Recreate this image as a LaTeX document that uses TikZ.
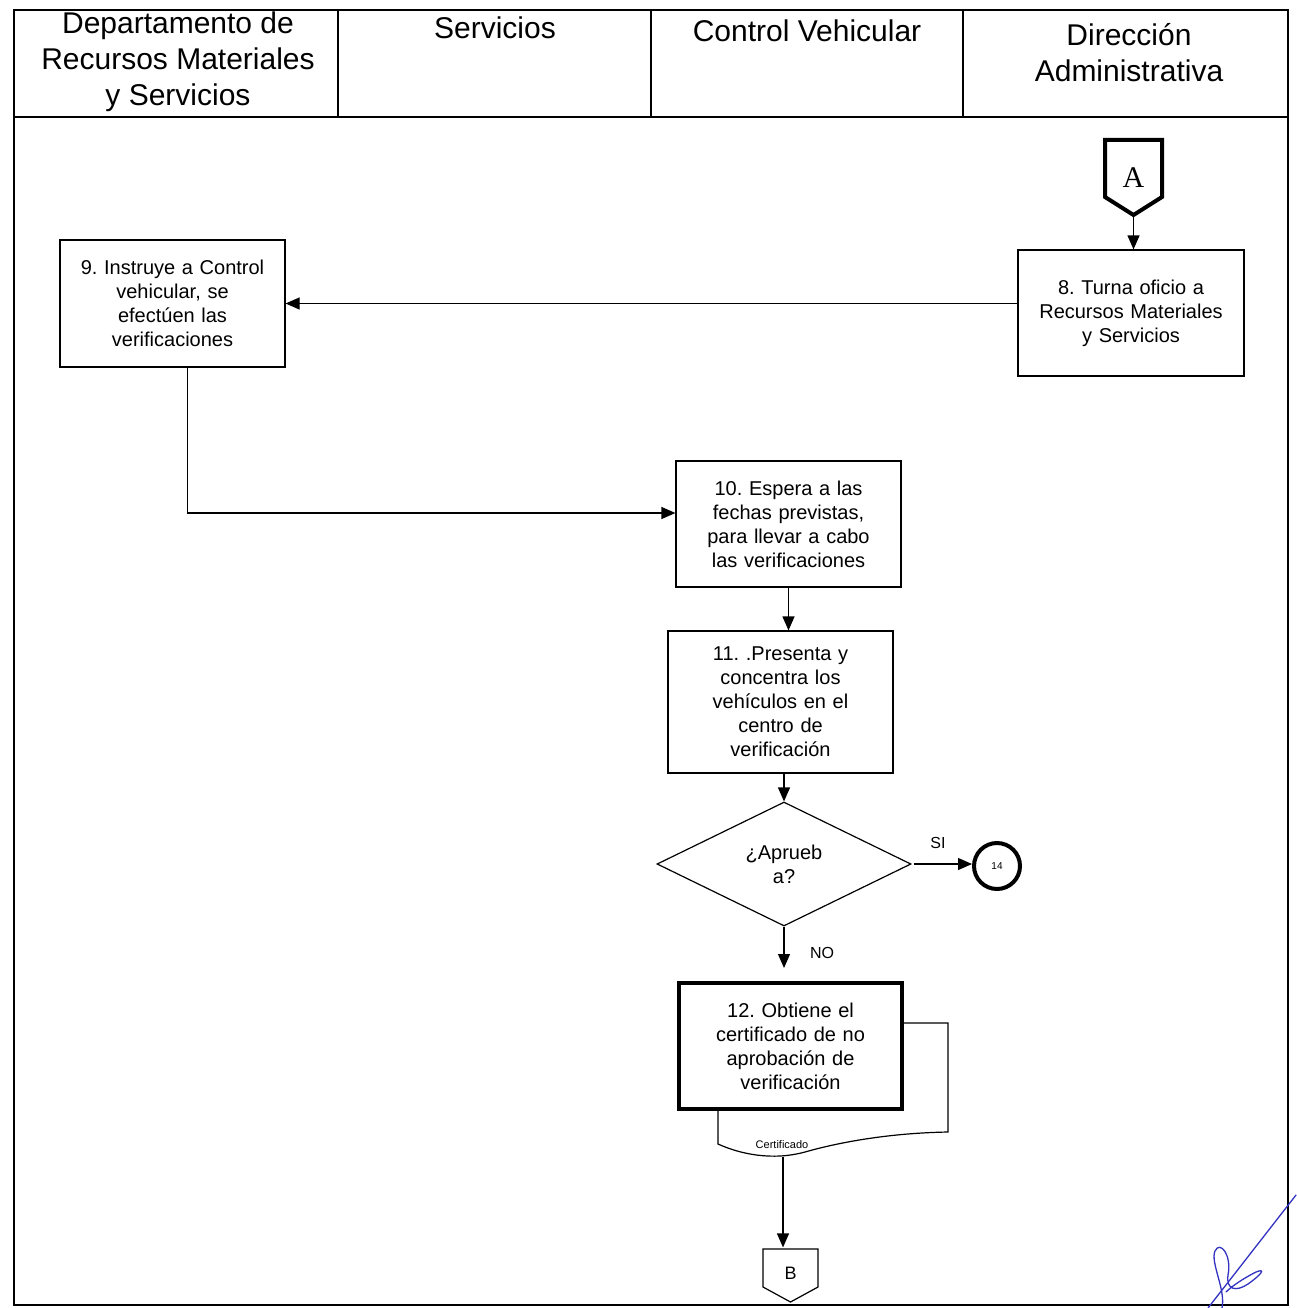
\documentclass[tikz,border=0pt]{standalone}
\usepackage{fontspec}
\setmainfont{Liberation Sans}
\newfontfamily\serifA{Liberation Serif}
\usetikzlibrary{arrows.meta,shapes.geometric}
\frenchspacing
\begin{document}
\begin{tikzpicture}[x=1pt,y=-1pt,
  line width=1.2pt,
  box/.style={draw, fill=white, align=center, font=\fontsize{20}{24}\selectfont, inner sep=0pt},
  arr/.style={-{Triangle[length=14pt,width=12pt]}},
  hdr/.style={align=center, font=\fontsize{30}{36}\selectfont},
  lbl/.style={font=\fontsize{16}{18}\selectfont, inner sep=0pt}]
\useasboundingbox (0,0) rectangle (1296,1308);
% frame and header
\draw (14,10) rectangle (1288,1305);
\draw (14,117) -- (1288,117);
\foreach \x in {338,651,963} \draw (\x,10) -- (\x,117);
\node[hdr] (h1) at (178,62) {Departamento de\\Recursos Materiales\\y Servicios};
\node[hdr] (h2) at (495,28) {Servicios};
\node[hdr] (h3) at (807,31) {Control Vehicular};
\node[hdr] (h4) at (1129,53) {Dirección\\Administrativa};
% off-page connector A
\draw[line width=4pt, line join=miter] (1105,140) -- (1162,140) -- (1162,197) -- (1133.5,215) -- (1105,197) -- cycle;
\node[minimum width=57pt, minimum height=75pt, inner sep=0pt, font=\serifA\fontsize{30}{32}\selectfont] (A) at (1133.5,177.5) {A};
% boxes
\node[box, minimum width=226pt, minimum height=126pt, text width=210pt] (n8) at (1131,313) {8. Turna oficio a\\Recursos Materiales\\y Servicios};
\node[box, minimum width=225pt, minimum height=127pt, text width=210pt] (n9) at (172.5,303.5) {9. Instruye a Control\\vehicular, se\\efectúen las\\verificaciones};
\node[box, minimum width=225pt, minimum height=126pt, text width=210pt] (n10) at (788.5,524) {10. Espera a las\\fechas previstas,\\para llevar a cabo\\las verificaciones};
\node[box, minimum width=225pt, minimum height=142pt, text width=210pt] (n11) at (780.5,702) {11. .Presenta y\\concentra los\\vehículos en el\\centro de\\verificación};
\node[draw, diamond, aspect=2, minimum width=254pt, minimum height=124pt, inner sep=0pt, align=center, font=\fontsize{20}{24}\selectfont] (dia) at (784,864) {¿Aprueb\\a?};
\node[draw, circle, line width=4pt, minimum size=46pt, inner sep=0pt, font=\fontsize{10}{12}\selectfont] (c14) at (997,866) {14};
% document shape behind box 12
\draw[fill=white] (718,1023) -- (948,1023) -- (948,1132) .. controls (890,1133) and (840,1142) .. (805,1152) .. controls (772,1161) and (740,1154) .. (718,1144) -- cycle;
\node[font=\fontsize{11}{12}\selectfont, inner sep=0pt] (cert) at (782,1145) {Certificado};
\coordinate (docb) at (783,1157);
\node[box, line width=4pt, minimum width=223pt, minimum height=126pt, text width=210pt] (n12) at (790.5,1046) {12. Obtiene el\\certificado de no\\aprobación de\\verificación};
% off-page connector B
\draw (763,1249) -- (818,1249) -- (818,1287) -- (790.5,1302) -- (763,1287) -- cycle;
\node[minimum width=55pt, minimum height=50pt, inner sep=0pt, font=\fontsize{18}{20}\selectfont] (B) at (790.5,1273) {B};
% connectors
\draw[arr] (A.south) -- (A.south |- n8.north);
\draw[arr] (n8.west |- n9.east) -- (n9.east);
\draw[arr] ([xshift=15pt]n9.south) |- ([yshift=11pt]n10.west);
\draw[arr] (n10.south) -- (n10.south |- n11.north);
\draw[arr] (dia.north |- n11.south) -- (dia.north);
\draw[arr] ([xshift=2pt]dia.east) -- (dia.east -| c14.west);
\node[lbl] (si) at (938,843) {SI};
\draw[arr, shorten >=13pt] (dia.south) -- (dia.south |- n12.north);
\node[lbl] (no) at (822,953) {NO};
\draw[arr] (docb) -- (docb |- B.north);
% signature
\draw[blue!70!black!80, line width=1.3pt, line cap=round] (1296,1195) -- (1208,1308);
\draw[blue!70!black!80, line width=1.3pt, line cap=round] (1222,1308) .. controls (1226,1290) and (1210,1262) .. (1215,1251) .. controls (1220,1240) and (1232,1255) .. (1228,1275) .. controls (1226,1290) and (1236,1292) .. (1248,1284) .. controls (1262,1274) and (1266,1268) .. (1256,1272) .. controls (1244,1278) and (1232,1286) .. (1226,1292);
\end{tikzpicture}
\end{document}
